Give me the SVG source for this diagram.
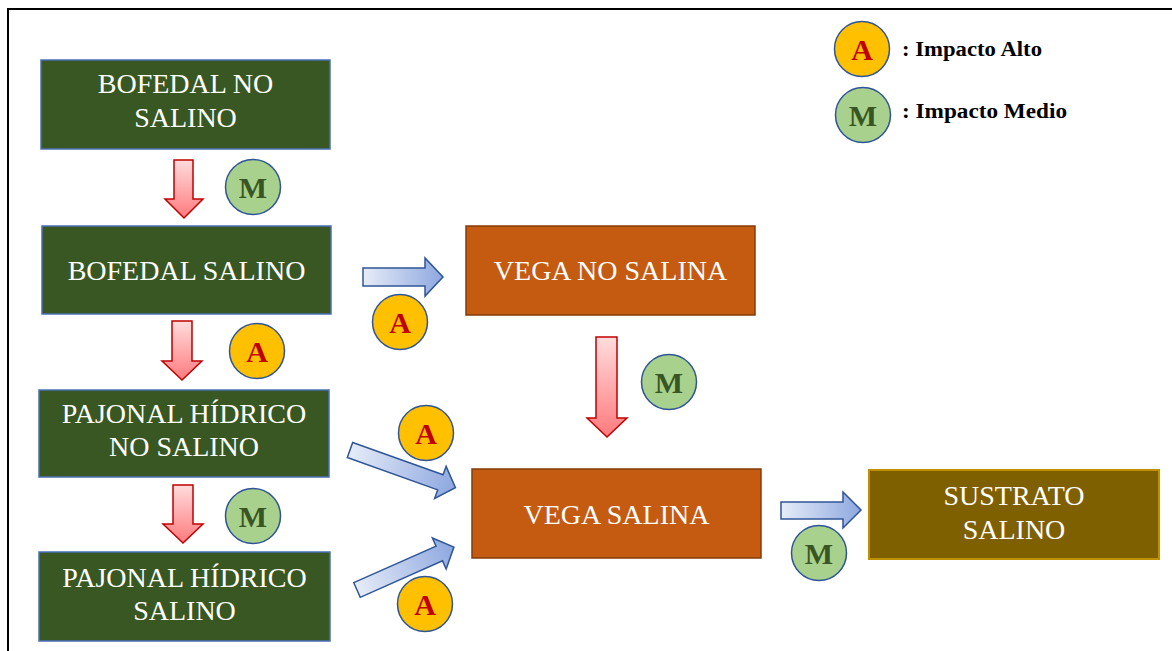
<svg xmlns="http://www.w3.org/2000/svg" width="1172" height="651" viewBox="0 0 1172 651">
  <defs>
    <linearGradient id="gRed" x1="0" y1="0" x2="0" y2="1">
      <stop offset="0" stop-color="#FFDCDC"/>
      <stop offset="1" stop-color="#FF7A7E"/>
    </linearGradient>
    <linearGradient id="gBlue" x1="0" y1="0" x2="1" y2="0">
      <stop offset="0" stop-color="#E6ECF8"/>
      <stop offset="1" stop-color="#8DA7DF"/>
    </linearGradient>
    <style>
      .green{fill:#385723;stroke:#4A6FB5;stroke-width:1.5}
      .orange{fill:#C55A11;stroke:#843C0C;stroke-width:1.5}
      .brown{fill:#7F6000;stroke:#BF9000;stroke-width:2}
      .bt{font-family:"Liberation Serif","Times New Roman",serif;font-size:28px;fill:#FFFFFF;text-anchor:middle}
      .ra{fill:url(#gRed);stroke:#C00000;stroke-width:1.5}
      .ba{fill:url(#gBlue);stroke:#2F5597;stroke-width:1.5}
      .cA{fill:#FFC000;stroke:#2F5597;stroke-width:1.5}
      .cM{fill:#A9D18E;stroke:#2F5597;stroke-width:1.5}
      .lA{font-family:"Liberation Serif","Times New Roman",serif;font-weight:bold;font-size:30px;fill:#C00000;text-anchor:middle}
      .lM{font-family:"Liberation Serif","Times New Roman",serif;font-weight:bold;font-size:30px;fill:#375623;text-anchor:middle}
      .leg{font-family:"Liberation Serif","Times New Roman",serif;font-weight:bold;font-size:20px;fill:#000000}
    </style>
  </defs>

  <rect x="0" y="0" width="1172" height="651" fill="#FFFFFF"/>
  <rect id="frame" x="8" y="9" width="1200" height="700" fill="none" stroke="#000000" stroke-width="2"/>

  <g id="connectors">
    <path class="ra" d="M174,160 H193 V199 H203 L184,218 L165,199 H174 Z"/>
    <path class="ra" d="M172,321 H192 V361 H202 L182,380 L162,361 H172 Z"/>
    <path class="ra" d="M173,485 H193 V524 H203 L183,543 L163,524 H173 Z"/>
    <path class="ra" d="M596,337 H617 V418 H627 L607,437 L587,418 H596 Z"/>
    <path class="ba" d="M363,268 H425 V258 L443,277 L425,296 V286 H363 Z"/>
    <path class="ba" d="M781,502 H843 V492 L861,510 L843,528 V519 H781 Z"/>
    <path class="ba" transform="translate(350,450) rotate(19.7)" d="M0,-8 H96 V-17 L112,0 L96,17 V8 H0 Z"/>
    <path class="ba" transform="translate(357,590) rotate(-23.9)" d="M0,-8 H90 V-17 L106,0 L90,17 V8 H0 Z"/>
  </g>

  <g id="bofedal-no-salino">
    <rect class="green" x="41" y="60" width="289" height="89"/>
    <text class="bt" x="185.5" y="93">BOFEDAL NO</text>
    <text class="bt" x="185.5" y="127">SALINO</text>
  </g>
  <g id="bofedal-salino">
    <rect class="green" x="42" y="226" width="289" height="88"/>
    <text class="bt" x="186.5" y="280">BOFEDAL SALINO</text>
  </g>
  <g id="pajonal-hidrico-no-salino">
    <rect class="green" x="39" y="390" width="290" height="87"/>
    <text class="bt" x="184" y="423">PAJONAL HÍDRICO</text>
    <text class="bt" x="184" y="456">NO SALINO</text>
  </g>
  <g id="pajonal-hidrico-salino">
    <rect class="green" x="39" y="552" width="291" height="89"/>
    <text class="bt" x="184.5" y="587">PAJONAL HÍDRICO</text>
    <text class="bt" x="184.5" y="620">SALINO</text>
  </g>
  <g id="vega-no-salina">
    <rect class="orange" x="466" y="226" width="289" height="89"/>
    <text class="bt" x="610.5" y="280">VEGA NO SALINA</text>
  </g>
  <g id="vega-salina">
    <rect class="orange" x="472" y="469" width="289" height="89"/>
    <text class="bt" x="616.5" y="524">VEGA SALINA</text>
  </g>
  <g id="sustrato-salino">
    <rect class="brown" x="869" y="470" width="290" height="89"/>
    <text class="bt" x="1014" y="505">SUSTRATO</text>
    <text class="bt" x="1014" y="539">SALINO</text>
  </g>

  <g id="badges">
    <g id="b-m1"><circle class="cM" cx="253" cy="187" r="27.5"/><text class="lM" x="253" y="198">M</text></g>
    <g id="b-a1"><circle class="cA" cx="257" cy="351" r="27.5"/><text class="lA" x="257" y="362">A</text></g>
    <g id="b-a2"><circle class="cA" cx="400" cy="322" r="27.5"/><text class="lA" x="400" y="333">A</text></g>
    <g id="b-m2"><circle class="cM" cx="253" cy="516" r="27.5"/><text class="lM" x="253" y="527">M</text></g>
    <g id="b-a3"><circle class="cA" cx="426" cy="433" r="27.5"/><text class="lA" x="426" y="444">A</text></g>
    <g id="b-a4"><circle class="cA" cx="425" cy="604" r="27.5"/><text class="lA" x="425" y="615">A</text></g>
    <g id="b-m3"><circle class="cM" cx="669" cy="382" r="27.5"/><text class="lM" x="669" y="393">M</text></g>
    <g id="b-m4"><circle class="cM" cx="819" cy="553" r="27.5"/><text class="lM" x="819" y="564">M</text></g>
  </g>

  <g id="legend">
    <circle class="cA" cx="862" cy="49" r="27.5"/><text class="lA" x="862" y="60">A</text>
    <text class="leg" x="902" y="56" textLength="140" lengthAdjust="spacingAndGlyphs">: Impacto Alto</text>
    <circle class="cM" cx="863" cy="115" r="27.5"/><text class="lM" x="863" y="126">M</text>
    <text class="leg" x="902" y="118" textLength="165" lengthAdjust="spacingAndGlyphs">: Impacto Medio</text>
  </g>
</svg>
